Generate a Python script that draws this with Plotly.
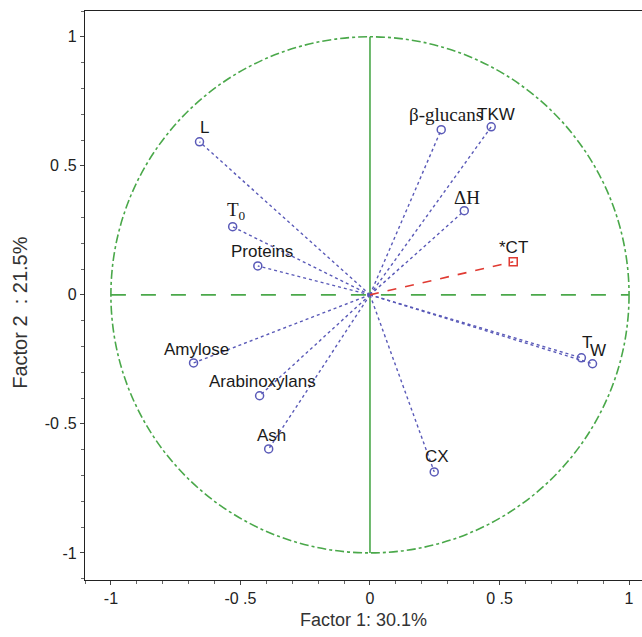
import plotly.graph_objects as go

# Variable loadings on the first two factors
variables = ["L", "T0", "Proteins", "Amylose", "Arabinoxylans", "Ash", "CX",
             "T", "W", "ΔH", "β-glucans", "TKW"]
factor1 = [-0.658, -0.530, -0.433, -0.681, -0.426, -0.391, 0.248,
           0.816, 0.859, 0.364, 0.275, 0.468]
factor2 = [0.593, 0.264, 0.112, -0.264, -0.391, -0.597, -0.686,
           -0.244, -0.267, 0.326, 0.640, 0.651]

# Supplementary variable
supp_name = "*CT"
supp_f1 = 0.553
supp_f2 = 0.128

tick_vals = [-1, -0.5, 0, 0.5, 1]
tick_text = ["-1", "-0 .5", "0", "0 .5", "1"]

SANS = "Liberation Sans, Arial, sans-serif"
SERIF = "Liberation Serif, Times New Roman, serif"
BLUE = "#5a5ab8"
GREEN = "#4aa84a"
RED = "#e03a32"

# label text, font family, size, x/y pixel offsets
label_style = {
    "L": ("L", SANS, 17, 5, 14),
    "T0": ("T<sub>0</sub>", SERIF, 19, 4, 16),
    "Proteins": ("Proteins", SANS, 17, 4, 14),
    "Amylose": ("Amylose", SANS, 17, 3, 13),
    "Arabinoxylans": ("Arabinoxylans", SANS, 17, 3, 14),
    "Ash": ("Ash", SANS, 17, 3, 13),
    "CX": ("CX", SANS, 17, 3, 15),
    "T": ("T", SANS, 17, 6, 15),
    "W": ("W", SANS, 17, 5, 13),
    "ΔH": ("ΔH", SERIF, 19, 3, 13),
    "β-glucans": ("β-glucans", SERIF, 19, 5, 15),
    "TKW": ("TKW", SANS, 17, 5, 12),
}

fig = go.Figure()

# reference lines and unit circle
fig.add_shape(type="circle", x0=-1, y0=-1, x1=1, y1=1, xref="x", yref="y",
              line=dict(color=GREEN, width=1.6, dash="dashdot"), layer="below")
fig.add_shape(type="line", x0=-1, y0=0, x1=1, y1=0, xref="x", yref="y",
              line=dict(color=GREEN, width=1.6, dash="longdash"), layer="below")
fig.add_shape(type="line", x0=0, y0=-1, x1=0, y1=1, xref="x", yref="y",
              line=dict(color=GREEN, width=1.6), layer="below")

# loading vectors
for name, a, b in zip(variables, factor1, factor2):
    fig.add_trace(go.Scatter(x=[0, a], y=[0, b], mode="lines",
                             line=dict(color=BLUE, width=1.4, dash="dot"),
                             hoverinfo="skip", showlegend=False))
fig.add_trace(go.Scatter(x=factor1, y=factor2, mode="markers", text=variables,
                         marker=dict(symbol="circle-open", size=8, color=BLUE,
                                     line=dict(width=1.5, color=BLUE)),
                         showlegend=False))

fig.add_trace(go.Scatter(x=[0, supp_f1], y=[0, supp_f2], mode="lines",
                         line=dict(color=RED, width=1.6, dash="dash"),
                         hoverinfo="skip", showlegend=False))
fig.add_trace(go.Scatter(x=[supp_f1], y=[supp_f2], mode="markers",
                         marker=dict(symbol="square-open", size=8, color=RED,
                                     line=dict(width=1.5, color=RED)),
                         showlegend=False))

for name, a, b in zip(variables, factor1, factor2):
    txt, fam, size, dx, dy = label_style[name]
    fig.add_annotation(x=a, y=b, text=txt, showarrow=False, xshift=dx, yshift=dy,
                       font=dict(family=fam, size=size, color="#1a1a1a"))
fig.add_annotation(x=supp_f1, y=supp_f2, text=supp_name, showarrow=False,
                   xshift=0, yshift=14,
                   font=dict(family=SANS, size=17, color="#1a1a1a"))

# vertical axis title
fig.add_annotation(xref="paper", yref="paper", x=-0.117, y=0.471,
                   text="Factor 2  : 21.5%", textangle=-90, showarrow=False,
                   xanchor="center", yanchor="middle",
                   font=dict(family=SANS, size=20, color="#333"))

axis_common = dict(
    tickmode="array", tickvals=tick_vals, ticktext=tick_text,
    ticks="outside", ticklen=4, tickcolor="#444", tickwidth=1,
    minor=dict(tickmode="linear", tick0=0, dtick=0.1, ticks="outside",
               ticklen=3, tickcolor="#666", showgrid=False),
    showgrid=False, zeroline=False, showline=True, linecolor="#222",
    linewidth=1.2, tickfont=dict(family=SANS, size=16, color="#222"),
)

fig.update_xaxes(range=[-1.1, 1.05], mirror=True,
                 title=dict(text="Factor 1: 30.1%", standoff=7,
                            font=dict(family=SANS, size=18, color="#333")),
                 **axis_common)
fig.update_yaxes(range=[-1.105, 1.1], mirror=False, **axis_common)

fig.update_layout(width=642, height=637, margin=dict(l=85, r=0, t=11, b=57),
                  paper_bgcolor="white", plot_bgcolor="white")

fig.write_html("out.html")
